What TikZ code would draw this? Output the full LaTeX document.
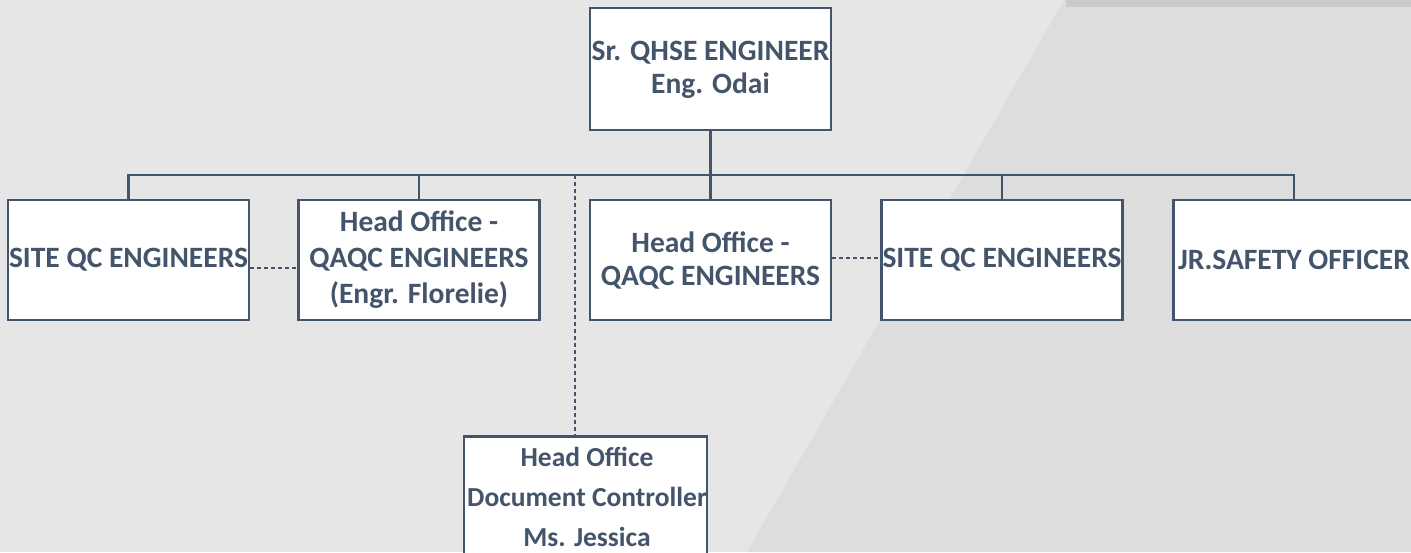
\documentclass[tikz,border=0pt]{standalone}
\usepackage{fontspec}
\setmainfont{Carlito}
\definecolor{ink}{HTML}{44546A}
\definecolor{bgA}{HTML}{E6E6E6}
\definecolor{bgB}{HTML}{DDDDDD}
\definecolor{strip}{HTML}{CBCBCB}
\begin{document}
\begin{tikzpicture}[x=1pt,y=1pt,
  card/.style={draw=ink, line width=2.5pt, fill=white, inner sep=0pt,
    minimum width=241pt, minimum height=120pt, align=center,
    text=ink, font=\fontsize{29.5}{33}\selectfont\bfseries},
  tree/.style={draw=ink, line width=2.8pt},
  dotted link/.style={draw=ink, line width=1.1pt, dash pattern=on 4pt off 3pt}]
\useasboundingbox (0,0) rectangle (1411,-552);
% background
\fill[bgA] (0,0) rectangle (1411,-552);
\fill[bgB] (1064,0) -- (1411,0) -- (1411,-552) -- (747,-552) -- cycle;
\fill[strip] (1066,0) rectangle (1411,-7);
% nodes
\node[card, minimum height=122pt, text depth=4pt] (top) at (710.5,-69) {Sr. QHSE ENGINEER\\Eng. Odai};
\node[card] (b1) at (128.5,-260) {SITE QC ENGINEERS};
\node[card, font=\fontsize{29.5}{36}\selectfont\bfseries] (b2) at (419,-260) {Head Office -\\QAQC ENGINEERS\\(Engr. Florelie)};
\node[card] (b3) at (710.5,-260) {Head Office -\\QAQC ENGINEERS};
\node[card] (b4) at (1002,-260) {SITE QC ENGINEERS};
\node[card] (b5) at (1294,-260) {JR.SAFETY OFFICER};
\node[card, minimum width=243pt, minimum height=135pt, anchor=north] (doc) at (585.5,-435) {};
\node[text=ink, font=\fontsize{27.5}{40}\selectfont\bfseries, align=center, anchor=north, inner sep=0pt] (doctext) at (587,-447) {Head Office\\Document Controller\\Ms. Jessica};
% tree connectors
\coordinate (bar) at (710.5,-175);
\coordinate (dj) at (575,-175);
\draw[tree] (top.south) -- (bar);
\foreach \b in {b1,b2,b3,b4,b5} \draw[tree] (bar) -| (\b.north);
% dashed links
\draw[dotted link] ([yshift=-8pt]b1.east) -- ([yshift=-8pt]b2.west);
\draw[dotted link] ([yshift=2pt]b3.east) -- ([yshift=2pt]b4.west);
\draw[dotted link] (dj) -- (dj |- doc.north);
\end{tikzpicture}
\end{document}
